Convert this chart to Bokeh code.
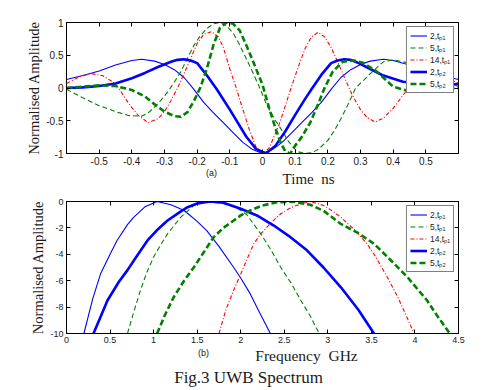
from bokeh.plotting import figure
from bokeh.models import Range1d, LinearAxis, FixedTicker, Legend, LegendItem
from bokeh.layouts import column
from bokeh.embed import file_html
from bokeh.resources import INLINE
from bokeh.core.properties import value

# ---------------- (a) time-domain pulses ----------------
t_2p1 = [-0.6, -0.55, -0.5, -0.45, -0.4, -0.37, -0.33, -0.3, -0.27, -0.24, -0.21, -0.18, -0.15, -0.12, -0.09, -0.06, -0.03, 0.0,
         0.03, 0.06, 0.09, 0.12, 0.15, 0.18, 0.21, 0.24, 0.27, 0.3, 0.33, 0.37, 0.4, 0.45, 0.5, 0.55, 0.6]
a_2p1 = [0.13, 0.19, 0.26, 0.35, 0.42, 0.44, 0.41, 0.36, 0.28, 0.16, -0.02, -0.22, -0.38, -0.53, -0.68, -0.83, -0.94, -1.0,
         -0.94, -0.83, -0.68, -0.53, -0.38, -0.22, -0.02, 0.16, 0.28, 0.36, 0.41, 0.44, 0.42, 0.35, 0.26, 0.19, 0.13]

t_5p1 = [-0.6, -0.55, -0.5, -0.45, -0.41, -0.37, -0.35, -0.33, -0.31, -0.29, -0.27, -0.25, -0.23, -0.21, -0.19, -0.17, -0.15, -0.13,
         -0.11, -0.09, -0.07, -0.05, -0.03, -0.01, 0.014, 0.04, 0.06, 0.08, 0.106, 0.13, 0.15, 0.17, 0.2, 0.22, 0.24, 0.26, 0.285,
         0.31, 0.33, 0.37, 0.4, 0.45, 0.5, 0.55, 0.6]
a_5p1 = [-0.02, -0.15, -0.27, -0.36, -0.42, -0.43, -0.38, -0.29, -0.18, -0.06, 0.09, 0.25, 0.45, 0.65, 0.8, 0.91, 0.98, 1.0,
         0.95, 0.84, 0.66, 0.45, 0.24, 0.02, -0.27, -0.5, -0.65, -0.82, -0.97, -1.0, -0.99, -0.94, -0.8, -0.65, -0.47, -0.27, 0.0,
         0.12, 0.22, 0.4, 0.43, 0.38, 0.27, 0.14, 0.02]

t_14p1 = [-0.6, -0.56, -0.525, -0.49, -0.46, -0.44, -0.42, -0.4, -0.38, -0.35, -0.32, -0.3, -0.28, -0.26, -0.24, -0.22, -0.2, -0.18,
          -0.155, -0.135, -0.12, -0.1, -0.083, -0.06, -0.04, -0.02, 0.0, 0.02, 0.05, 0.07, 0.09, 0.11, 0.13, 0.15, 0.17, 0.19,
          0.21, 0.23, 0.25, 0.275, 0.3, 0.32, 0.345, 0.37, 0.4, 0.43, 0.46, 0.49, 0.52, 0.56, 0.6]
a_14p1 = [0.07, 0.17, 0.22, 0.19, 0.10, 0.0, -0.16, -0.30, -0.42, -0.53, -0.47, -0.36, -0.19, 0.0, 0.22, 0.45, 0.68, 0.82,
          0.86, 0.78, 0.62, 0.29, 0.04, -0.33, -0.64, -0.9, -1.0, -0.92, -0.57, -0.27, 0.04, 0.33, 0.6, 0.78, 0.85, 0.78,
          0.62, 0.4, 0.17, -0.11, -0.33, -0.45, -0.52, -0.46, -0.31, -0.11, 0.07, 0.18, 0.22, 0.17, 0.07]

t_2p2 = [-0.6, -0.55, -0.5, -0.45, -0.4, -0.36, -0.32, -0.28, -0.26, -0.24, -0.22, -0.2, -0.17, -0.14, -0.1, -0.05, -0.02, 0.01,
         0.04, 0.07, 0.1, 0.13, 0.15, 0.18, 0.21, 0.23, 0.25, 0.27, 0.29, 0.33, 0.37, 0.43, 0.5, 0.55, 0.6]
a_2p2 = [0.0, 0.01, 0.03, 0.07, 0.15, 0.23, 0.32, 0.40, 0.43, 0.44, 0.42, 0.38, 0.19, -0.02, -0.33, -0.74, -0.93, -1.0,
         -0.88, -0.66, -0.41, -0.17, -0.02, 0.2, 0.38, 0.42, 0.44, 0.43, 0.39, 0.29, 0.19, 0.095, 0.06, 0.05, 0.06]

t_5p2 = [-0.6, -0.55, -0.5, -0.45, -0.4, -0.36, -0.33, -0.3, -0.27, -0.25, -0.23, -0.21, -0.19, -0.17, -0.15, -0.13, -0.11, -0.09,
         -0.07, -0.05, -0.03, 0.0, 0.02, 0.04, 0.055, 0.07, 0.085, 0.1, 0.12, 0.147, 0.17, 0.19, 0.215, 0.245, 0.28, 0.31, 0.35,
         0.4, 0.45, 0.5, 0.55, 0.6]
a_5p2 = [0.0, 0.02, 0.04, 0.03, -0.03, -0.13, -0.25, -0.36, -0.43, -0.44, -0.37, -0.2, 0.01, 0.3, 0.66, 0.92, 1.0, 0.98,
         0.88, 0.66, 0.42, 0.05, -0.3, -0.62, -0.83, -0.97, -1.0, -0.88, -0.75, -0.52, -0.25, 0.0, 0.25, 0.4, 0.42, 0.38, 0.25,
         0.02, -0.05, -0.04, -0.01, 0.0]

# ---------------- (b) spectra ----------------
f_2p1 = [0.2, 0.3, 0.39, 0.5, 0.58, 0.7, 0.77, 0.9, 1.04, 1.2, 1.35, 1.5, 1.61, 1.75, 1.92, 2.0, 2.11, 2.2, 2.34]
s_2p1 = [-10, -7.4, -5.5, -4.0, -2.95, -1.75, -1.2, -0.4, 0.0, -0.25, -0.68, -1.5, -2.2, -3.4, -5.0, -5.8, -7.0, -8.2, -10]

f_5p1 = [0.7, 0.78, 0.85, 0.92, 1.0, 1.08, 1.16, 1.31, 1.46, 1.62, 1.8, 1.95, 2.07, 2.23, 2.35, 2.46, 2.58, 2.69, 2.8, 2.9]
s_5p1 = [-10, -8.2, -6.7, -5.4, -4.2, -3.3, -2.45, -1.2, -0.3, 0.0, -0.15, -0.45, -1.0, -2.45, -3.7, -5.0, -6.2, -7.5, -8.7, -10]

f_14p1 = [1.75, 1.83, 1.92, 2.0, 2.07, 2.15, 2.23, 2.35, 2.46, 2.58, 2.69, 2.8, 2.95, 3.05, 3.15, 3.3, 3.45, 3.55, 3.68, 3.8, 3.91, 3.99]
s_14p1 = [-10, -8.2, -6.7, -5.5, -4.4, -3.2, -2.45, -1.6, -0.93, -0.45, -0.18, 0.0, -0.3, -0.7, -1.2, -2.1, -3.2, -4.2, -5.7, -7.2, -8.8, -10]

f_2p2 = [0.31, 0.4, 0.47, 0.6, 0.7, 0.8, 0.93, 1.05, 1.16, 1.3, 1.39, 1.5, 1.65, 1.8, 2.0, 2.2, 2.38, 2.55, 2.76, 2.95, 3.15, 3.35, 3.53]
s_2p2 = [-10, -8.6, -7.5, -6.1, -5.2, -4.2, -2.95, -2.1, -1.44, -0.8, -0.43, -0.15, 0.0, -0.1, -0.55, -1.1, -1.82, -2.6, -3.7, -5.0, -6.5, -8.2, -10]

f_5p2 = [1.04, 1.13, 1.23, 1.35, 1.46, 1.58, 1.69, 1.8, 1.92, 2.0, 2.11, 2.25, 2.4, 2.6, 2.8, 2.95, 3.15, 3.35, 3.53, 3.7, 3.91, 4.14, 4.25, 4.4]
s_5p2 = [-10, -8.6, -7.25, -6.0, -5.0, -3.8, -2.7, -2.0, -1.44, -1.05, -0.68, -0.3, -0.08, 0.0, -0.25, -0.7, -1.7, -2.4, -3.2, -4.3, -5.7, -7.5, -8.6, -10]

labels = ["2,t\u209a\u2081", "5,t\u209a\u2081", "14,t\u209a\u2081", "2,t\u209a\u2082", "5,t\u209a\u2082"]

ticks_a_x = [-0.5, -0.4, -0.3, -0.2, -0.1, 0.0, 0.1, 0.2, 0.3, 0.4, 0.5]
ticks_a_y = [-1.0, -0.5, 0.0, 0.5, 1.0]
ticks_b_x = [0, 0.5, 1, 1.5, 2, 2.5, 3, 3.5, 4, 4.5]
ticks_b_y = [-10, -8, -6, -4, -2, 0]

# texts under each panel (x in panel data units, y in page pixels)
under_a_text = ["(a)", "Time\u00a0\u00a0ns"]
under_a_x = [-0.156, 0.141]
under_a_y = [172, 178]
under_b_text = ["(b)", "Frequency\u00a0\u00a0GHz", "Fig.3 UWB Spectrum"]
under_b_x = [1.573, 2.755, 2.09]
under_b_y = [352, 355, 377]

BLUE = "#0000ff"
GREEN = "#008000"
RED = "#ff0000"
TXT = "#1a1a1a"
SANS = "Liberation Sans"
SERIF = "Liberation Serif"
LEFT, RIGHT = 66, 20
WIDTH = LEFT + 392 + RIGHT


def fmt(v):
    return "%g" % v


def style(p, xt, yt, fs):
    p.outline_line_color = "black"
    p.outline_line_width = 1
    p.xgrid.visible = False
    p.ygrid.visible = False
    p.background_fill_color = "white"
    p.border_fill_color = "white"
    for ax, tk in ((p.xaxis[0], xt), (p.yaxis[0], yt)):
        ax.ticker = FixedTicker(ticks=tk, minor_ticks=[])
        ax.major_label_overrides = {v: fmt(v) for v in tk}
        ax.major_tick_in = 4
        ax.major_tick_out = 0
        ax.minor_tick_line_color = None
        ax.axis_line_color = "black"
        ax.major_label_text_font = SANS
        ax.major_label_text_font_size = fs
        ax.major_label_text_color = TXT
        ax.major_label_standoff = 3
    p.yaxis[0].axis_label = "Normalised Amplitude"
    p.yaxis[0].axis_label_text_font = SERIF
    p.yaxis[0].axis_label_text_font_style = "normal"
    p.yaxis[0].axis_label_text_font_size = "14.5px"
    p.yaxis[0].axis_label_text_color = TXT
    p.yaxis[0].axis_label_standoff = 1
    for loc, tk in (("above", xt), ("right", yt)):
        ax = LinearAxis(ticker=FixedTicker(ticks=tk, minor_ticks=[]), major_label_text_font_size="1px",
                        major_label_text_color=None, major_tick_in=4, major_tick_out=0,
                        minor_tick_line_color=None, major_label_standoff=0, axis_line_color="black")
        p.add_layout(ax, loc)


def add_lines(p, xs_list, ys_list):
    specs = [dict(line_color=BLUE, line_width=1.1),
             dict(line_color=GREEN, line_width=1.1, line_dash="5 3"),
             dict(line_color=RED, line_width=1.1, line_dash="4 2 1 2"),
             dict(line_color=BLUE, line_width=2.6),
             dict(line_color=GREEN, line_width=2.6, line_dash="6 3")]
    rs = []
    for xs, ys, sp in zip(xs_list, ys_list, specs):
        rs.append(p.line(xs, ys, **sp))
    items = [LegendItem(label=lab, renderers=[r]) for lab, r in zip(labels, rs)]
    leg = Legend(items=items, location="top_right", border_line_color="black", border_line_width=1,
                 background_fill_color="white", background_fill_alpha=1.0,
                 label_text_font=SANS, label_text_font_size="8.5px", label_text_color=TXT,
                 glyph_width=17, glyph_height=11, label_height=11, label_width=0,
                 spacing=1, padding=3, margin=4, label_standoff=3)
    p.add_layout(leg)


def strip(x_range, y_top, y_bot, texts, xs, ys, specs):
    s = figure(width=WIDTH, height=y_bot - y_top, x_range=x_range, y_range=Range1d(y_bot, y_top),
               x_axis_type=None, y_axis_type=None, output_backend="svg", toolbar_location=None,
               min_border_left=LEFT, min_border_right=RIGHT, min_border_top=0, min_border_bottom=0)
    s.outline_line_color = None
    s.xgrid.visible = False
    s.ygrid.visible = False
    for tx, x, y, (font, size) in zip(texts, xs, ys, specs):
        s.text(x=[x], y=[y], text=[tx], text_font=value(font), text_font_size=size, text_color=TXT,
               text_align="center", text_baseline="middle")
    return s


p1 = figure(width=WIDTH, height=168, x_range=Range1d(-0.6, 0.6), y_range=Range1d(-1, 1),
            output_backend="svg", toolbar_location=None,
            min_border_left=LEFT, min_border_right=RIGHT, min_border_top=22, min_border_bottom=15)
style(p1, ticks_a_x, ticks_a_y, "10px")
add_lines(p1, [t_2p1, t_5p1, t_14p1, t_2p2, t_5p2], [a_2p1, a_5p1, a_14p1, a_2p2, a_5p2])

s1 = strip(p1.x_range, 168, 187, under_a_text, under_a_x, under_a_y,
           [(SANS, "9px"), (SERIF, "15px")])

p2 = figure(width=WIDTH, height=160, x_range=Range1d(0, 4.5), y_range=Range1d(-10, 0),
            output_backend="svg", toolbar_location=None,
            min_border_left=LEFT, min_border_right=RIGHT, min_border_top=14, min_border_bottom=14)
style(p2, ticks_b_x, ticks_b_y, "9px")
add_lines(p2, [f_2p1, f_5p1, f_14p1, f_2p2, f_5p2], [s_2p1, s_5p1, s_14p1, s_2p2, s_5p2])

s2 = strip(p2.x_range, 347, 388, under_b_text, under_b_x, under_b_y,
           [(SANS, "9px"), (SERIF, "15.5px"), (SERIF, "17px")])

layout = column(p1, s1, p2, s2, spacing=0)
open("out.html", "w").write(file_html(layout, INLINE))
